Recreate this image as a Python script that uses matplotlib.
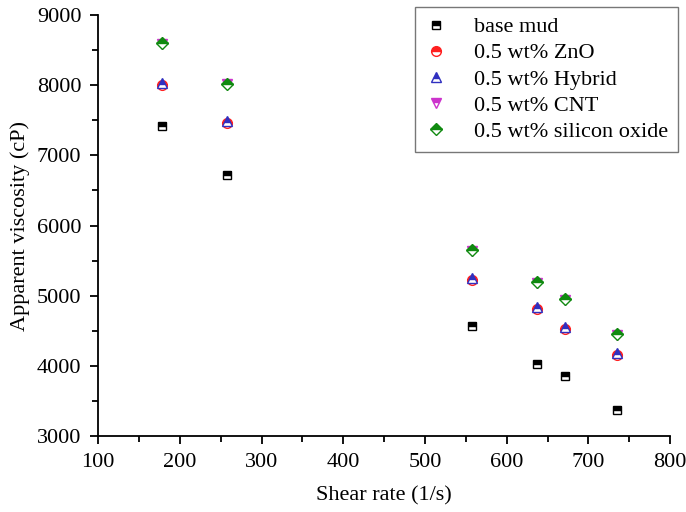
import matplotlib
matplotlib.use("Agg")
import matplotlib.pyplot as plt

shear = [178, 258, 557, 637, 671, 735]
base_mud = [7420, 6720, 4570, 4030, 3860, 3370]
zno = [8000, 7460, 5220, 4810, 4530, 4150]
hybrid = [8030, 7490, 5250, 4840, 4560, 4180]
cnt = [8590, 8010, 5640, 5180, 4940, 4440]
silicon = [8600, 8020, 5650, 5190, 4950, 4450]

labels = ["base mud", "0.5 wt% ZnO", "0.5 wt% Hybrid", "0.5 wt% CNT", "0.5 wt% silicon oxide"]
series = [base_mud, zno, hybrid, cnt, silicon]
colors = ["black", "#ff2020", "#3030c0", "#cc33cc", "#108a10"]
markers = ["s", "o", "^", "v", "D"]
sizes = [6, 7, 7.5, 7.5, 6]

plt.rcParams['font.family'] = ['Liberation Serif', 'DejaVu Serif']
fig = plt.figure(figsize=(6.86, 5.12), dpi=100)
ax = fig.add_axes([0.143, 0.148, 0.834, 0.823])

for y, lab, c, m, s in zip(series, labels, colors, markers, sizes):
    ax.plot(shear, y, linestyle='none', marker=m, markersize=s, fillstyle='top',
            markerfacecolor=c, markerfacecoloralt='white', markeredgecolor=c,
            markeredgewidth=1.0, label=lab)

ax.set_xlim(100, 800)
ax.set_ylim(3000, 9000)
ax.set_xticks(range(100, 801, 100))
ax.set_xticks(range(150, 800, 100), minor=True)
ax.set_yticks(range(3000, 9001, 1000))
ax.set_yticks(range(3500, 9000, 1000), minor=True)
ax.spines['top'].set_visible(False)
ax.spines['right'].set_visible(False)
for sp in ['left', 'bottom']:
    ax.spines[sp].set_linewidth(1.3)
ax.tick_params(which='major', direction='out', length=6, width=1.3, labelsize=16, pad=6)
ax.tick_params(which='minor', direction='out', length=4, width=1.3)
ax.set_xlabel("Shear rate (1/s)", fontsize=16, labelpad=10)
ax.set_ylabel("Apparent viscosity (cP)", fontsize=16, labelpad=5)

leg = ax.legend(loc='upper right', bbox_to_anchor=(1.025, 1.035), fontsize=16, frameon=True,
                fancybox=False, edgecolor='#555555', handlelength=1.0, handletextpad=1.2,
                borderpad=0.45, labelspacing=0.25, borderaxespad=0.3)
leg.get_frame().set_linewidth(1.0)

fig.savefig("out.png", dpi=100)
